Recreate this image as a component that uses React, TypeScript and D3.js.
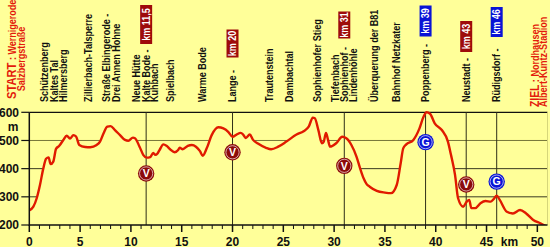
import React, { useEffect } from 'react';
import * as d3 from 'd3';

// ---- data ----
const profileKm = [0, 0.4, 0.73, 1.05, 1.38, 1.65, 1.9, 2.1, 2.36, 2.63, 2.95, 3.35, 3.68, 4.0, 4.34, 4.6, 4.92, 5.5, 6.0, 6.63, 6.96, 7.3, 7.68, 8.0, 8.43, 8.93, 9.42, 9.75, 10.2, 10.4, 10.85, 11.23, 11.55, 11.9, 12.2, 12.4, 12.6, 12.8, 13.2, 13.5, 13.85, 14.3, 14.65, 14.8, 15.1, 15.6, 16.0, 16.4, 16.8, 17.07, 17.46, 17.95, 18.6, 19.1, 19.6, 20.0, 20.4, 20.8, 21.05, 21.3, 21.7, 22.0, 22.5, 23.3, 23.8, 24.5, 25.3, 26.3, 27.0, 27.5, 27.9, 28.1, 28.45, 28.8, 28.98, 29.2, 29.4, 29.6, 30.2, 30.8, 31.2, 31.7, 32.2, 32.55, 32.9, 33.2, 33.5, 34.2, 35.0, 35.6, 36.16, 36.55, 36.8, 37.1, 37.8, 38.4, 38.8, 39.1, 39.44, 39.9, 40.6, 41.2, 41.5, 41.9, 42.2, 42.7, 43.05, 43.3, 43.5, 43.9, 44.4, 44.9, 45.4, 45.7, 46.0, 46.3, 47.0, 47.6, 48.3, 48.9, 49.6, 50.3, 50.95];
const profileElev = [252, 265, 295, 342, 401, 435, 440, 416, 425, 470, 481, 502, 517, 507, 519, 514, 484, 477, 476, 484, 496, 525, 549, 551, 537, 519, 502, 499, 510, 508, 478, 448, 439, 441, 456, 449, 453, 465, 486, 481, 469, 458, 466, 474, 469, 481, 484, 478, 462, 446, 472, 519, 547, 543, 530, 513, 521, 527, 521, 509, 521, 503, 489, 474, 469, 478, 496, 521, 533, 549, 581, 579, 537, 490, 496, 527, 502, 478, 490, 513, 508, 484, 443, 402, 366, 345, 336, 321, 315, 313, 342, 419, 472, 486, 502, 543, 584, 600, 595, 561, 537, 496, 449, 378, 295, 265, 283, 289, 260, 260, 277, 285, 283, 292, 304, 289, 247, 241, 253, 241, 218, 206, 194];

const yTicks = [200, 300, 400, 500, 600];
const yGrid = [300, 400, 500];
const xMajorTicks = [0, 5, 10, 15, 20, 25, 30, 35, 40, 45, 50];

const stationKm = [11.5, 20, 31, 39, 43, 46];
const stationBox = ['km 11,5', 'km 20', 'km 31', 'km 39', 'km 43', 'km 46'];
const stationBoxColor = ['#9e0b0b', '#9e0b0b', '#9e0b0b', '#0a14d6', '#9e0b0b', '#0a14d6'];
const markerLetter = ['V', 'V', 'V', 'G', 'V', 'G'];
const markerElev = [383, 458, 410, 494, 344, 354];

const placeKm = [1.45, 2.43, 3.32, 5.78, 7.55, 8.53, 10.55, 11.5, 12.32, 13.9, 17.0, 20, 23.6, 25.56, 28.3, 30.1, 31, 31.86, 33.93, 36.09, 39, 43, 46];
const placeNames = ['Schützenberg', 'Kaltes Tal', 'Hilmersberg', 'Zillierbach-Talsperre', 'Straße Elbingerode -', 'Drei Annen Hohne', 'Neue Hütte', 'Kalte Bode -', 'Kuhbach', 'Spielbach', 'Warme Bode', 'Lange -', 'Trautenstein', 'Dambachtal', 'Sophienhofer Stieg', 'Tiefenbach', 'Sophienhof -', 'Lindenhöhle', 'Überquerung der B81', 'Bahnhof Netzkater', 'Poppenberg -', 'Neustadt -', 'Rüdigsdorf -'];

// ---- layout ----
const W = 550, H = 247;
const BG = '#ffff99';
const FONT = '"Liberation Sans", Arial, sans-serif';
const x = d3.scaleLinear().domain([0, 51]).range([29.3, 547.5]);
const y = d3.scaleLinear().domain([200, 600]).range([225, 112.3]);
const X0 = x(0), X1 = x(51), Y0 = y(200), Y1 = y(600);
const LABEL_BASE = 102;
const SQ = 0.86;
const boxCenterY = [24.5, 43.5, 25, 21, 36.5, 22];
const boxLen = [39, 28, 27, 31, 31, 30];

export default function App() {
  useEffect(() => {
    document.body.style.margin = '0';
  }, []);

  const pts = profileKm.map((k, i) => [k, profileElev[i]] as [number, number]);
  const lineGen = d3.line<[number, number]>().x(d => x(d[0])).y(d => y(Math.min(d[1], 600))).curve(d3.curveMonotoneX);
  const areaGen = d3.area<[number, number]>().x(d => x(d[0])).y0(Y0 + 5).y1(d => y(Math.min(d[1], 600))).curve(d3.curveMonotoneX);
  const minorTicks = d3.range(0, 51, 1);

  const rot = (cx: number, cy: number) => `translate(${cx},${cy}) rotate(-90) scale(${SQ},1)`;

  return (
    <svg width={W} height={H} style={{ display: 'block', position: 'absolute', left: 0, top: 0 }} fontFamily={FONT}>
      <defs>
        <clipPath id="plot">
          <rect x={X0} y={Y1 - 2} width={X1 - X0} height={Y0 - Y1 + 2} />
        </clipPath>
      </defs>
      <rect x={0} y={0} width={W} height={H} fill={BG} />

      {/* gridlines */}
      {yGrid.map(v => (
        <line key={v} x1={X0} x2={X1} y1={y(v)} y2={y(v)} stroke={v === 500 ? '#77773a' : '#3a3a20'} strokeWidth={1} />
      ))}
      {/* area covering gridlines */}
      <g clipPath="url(#plot)">
        <path d={areaGen(pts) || ''} fill={BG} />
      </g>
      {/* top line */}
      <line x1={X0} x2={X1} y1={Y1} y2={Y1} stroke="#111" strokeWidth={1.2} />
      <line x1={X1} x2={X1} y1={Y1} y2={Y0} stroke="#d6d67a" strokeWidth={1} />

      {/* station verticals */}
      {stationKm.map(k => (
        <line key={k} x1={x(k)} x2={x(k)} y1={Y1} y2={Y0} stroke="#2f2f18" strokeWidth={1} />
      ))}

      {/* profile */}
      <g clipPath="url(#plot)">
        <path d={lineGen(pts) || ''} fill="none" stroke="#e01a00" strokeWidth={2.4} strokeLinejoin="round" />
      </g>

      {/* axes */}
      <line x1={X0} x2={X0} y1={Y1} y2={Y0 + 1} stroke="#111" strokeWidth={1.5} />
      <line x1={X0} x2={X1} y1={Y0} y2={Y0} stroke="#111" strokeWidth={1.5} />
      {yTicks.map(v => (
        <g key={v}>
          <line x1={X0 - 8} x2={X0} y1={y(v)} y2={y(v)} stroke="#111" strokeWidth={1.2} />
          <text x={19} y={y(v)} dy="0.36em" textAnchor="end" fontSize={12} fontWeight="bold" fill="#111">{v}</text>
        </g>
      ))}
      <text x={13} y={131} textAnchor="middle" fontSize={12} fontWeight="bold" fill="#111">m</text>
      {minorTicks.map(k => (
        <line key={k} x1={x(k)} x2={x(k)} y1={Y0} y2={Y0 + (k % 5 === 0 ? 7 : 4)} stroke="#111" strokeWidth={k % 5 === 0 ? 1.5 : 1} />
      ))}
      {xMajorTicks.map(k => (
        <text key={k} x={x(k)} y={245.5} textAnchor="middle" fontSize={12} fontWeight="bold" fill="#111">{k}</text>
      ))}
      <text x={x(47.25)} y={245.5} textAnchor="middle" fontSize={12} fontWeight="bold" fill="#111">km</text>

      {/* markers */}
      {stationKm.map((k, i) => (
        <g key={'m' + k}>
          <circle cx={x(k)} cy={y(markerElev[i])} r={8.2} fill={markerLetter[i] === 'G' ? '#0a14d6' : '#8c0a0a'} />
          <circle cx={x(k)} cy={y(markerElev[i])} r={6.6} fill="none" stroke="#fff" strokeWidth={0.8} strokeOpacity={0.8} />
          <text x={x(k)} y={y(markerElev[i])} dy="0.36em" textAnchor="middle" fontSize={10.5} fontWeight="bold" fill="#fff">{markerLetter[i]}</text>
        </g>
      ))}

      {/* place labels */}
      {placeNames.map((t, i) => (
        <text key={t} transform={rot(x(placeKm[i]), LABEL_BASE)} dy="0.36em" fontSize={10.5} fontWeight="bold" fill="#111">{t}</text>
      ))}

      {/* km boxes */}
      {stationKm.map((k, i) => (
        <g key={'b' + k}>
          <rect x={x(k) - 6} y={boxCenterY[i] - boxLen[i] / 2} width={12} height={boxLen[i]} fill={stationBoxColor[i]} />
          <text transform={rot(x(k), boxCenterY[i])} dy="0.36em" textAnchor="middle" fontSize={10.5} fontWeight="bold" fill="#fff">{stationBox[i]}</text>
        </g>
      ))}

      {/* start / finish */}
      <text transform={rot(10, 99)} dy="0.36em" fontWeight="bold" fill="#e31b0c">
        <tspan fontSize={13}>START</tspan>
        <tspan fontSize={10.5}> : Wernigerode</tspan>
      </text>
      <text transform={rot(21.5, 59)} dy="0.36em" textAnchor="middle" fontSize={10.5} fontWeight="bold" fill="#e31b0c">Salzbergstraße</text>
      <text transform={rot(533, 107)} dy="0.36em" fontWeight="bold" fill="#e31b0c">
        <tspan fontSize={12}>ZIEL</tspan>
        <tspan fontSize={10.5}> : Nordhausen</tspan>
      </text>
      <text transform={rot(543.5, 107)} dy="0.36em" fontSize={10.5} fontWeight="bold" fill="#e31b0c">Albert-Kuntz-Stadion</text>
    </svg>
  );
}
